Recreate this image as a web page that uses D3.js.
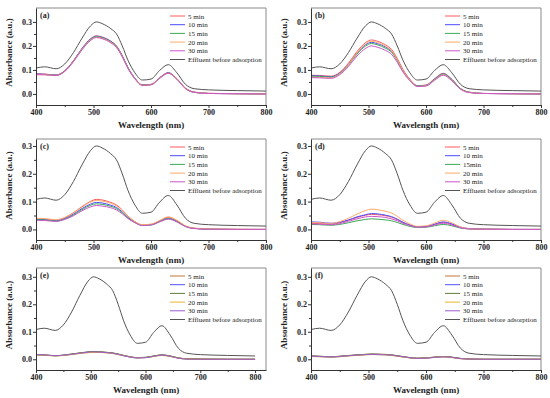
<!DOCTYPE html>
<html>
<head>
<meta charset="utf-8">
<script src="https://cdn.jsdelivr.net/npm/d3@7"></script>
<style>
  body { margin: 0; background: #fff; }
  svg { display: block; }
</style>
</head>
<body>
<div class="chart"></div>
<script>
// UV-vis spectra, six panels

var wavelength = [400, 415, 435, 450, 465, 480, 495, 505, 515, 530, 540, 550, 560, 572, 585, 600, 615, 630, 645, 660, 675, 700, 750, 800]

var effluent = [0.108, 0.113, 0.105, 0.125, 0.172, 0.232, 0.284, 0.300, 0.293, 0.272, 0.250, 0.200, 0.140, 0.088, 0.058, 0.062, 0.098, 0.122, 0.088, 0.040, 0.022, 0.017, 0.014, 0.012]

var a5  = [0.084, 0.083, 0.079, 0.097, 0.138, 0.190, 0.230, 0.242, 0.237, 0.220, 0.200, 0.160, 0.110, 0.066, 0.038, 0.040, 0.068, 0.089, 0.064, 0.024, 0.008, 0.003, 0.001, 0.000]
var a10 = [0.083, 0.082, 0.078, 0.096, 0.137, 0.189, 0.229, 0.241, 0.236, 0.219, 0.199, 0.159, 0.109, 0.065, 0.037, 0.039, 0.067, 0.088, 0.063, 0.023, 0.007, 0.002, 0.001, 0.000]
var a15 = [0.082, 0.081, 0.078, 0.095, 0.136, 0.187, 0.227, 0.239, 0.234, 0.217, 0.197, 0.157, 0.108, 0.064, 0.037, 0.039, 0.066, 0.087, 0.062, 0.023, 0.007, 0.002, 0.001, 0.000]
var a20 = [0.081, 0.080, 0.077, 0.094, 0.135, 0.186, 0.225, 0.237, 0.232, 0.215, 0.195, 0.156, 0.107, 0.064, 0.036, 0.038, 0.066, 0.086, 0.062, 0.022, 0.007, 0.002, 0.001, 0.000]
var a30 = [0.080, 0.080, 0.077, 0.094, 0.134, 0.184, 0.223, 0.235, 0.230, 0.213, 0.193, 0.155, 0.106, 0.063, 0.036, 0.038, 0.065, 0.086, 0.061, 0.022, 0.007, 0.002, 0.001, 0.000]

var b5  = [0.078, 0.077, 0.074, 0.090, 0.128, 0.177, 0.214, 0.225, 0.220, 0.204, 0.186, 0.148, 0.102, 0.061, 0.035, 0.037, 0.064, 0.086, 0.061, 0.023, 0.007, 0.002, 0.001, 0.000]
var b10 = [0.076, 0.075, 0.072, 0.087, 0.123, 0.170, 0.205, 0.215, 0.210, 0.195, 0.178, 0.142, 0.098, 0.059, 0.034, 0.036, 0.062, 0.084, 0.060, 0.022, 0.007, 0.002, 0.001, 0.000]
var b15 = [0.074, 0.073, 0.070, 0.085, 0.120, 0.166, 0.200, 0.210, 0.205, 0.190, 0.174, 0.139, 0.096, 0.058, 0.033, 0.035, 0.061, 0.083, 0.059, 0.022, 0.007, 0.002, 0.001, 0.000]
var b20 = [0.070, 0.069, 0.067, 0.084, 0.122, 0.171, 0.208, 0.220, 0.214, 0.198, 0.180, 0.143, 0.098, 0.058, 0.032, 0.034, 0.059, 0.080, 0.056, 0.020, 0.006, 0.002, 0.001, 0.000]
var b30 = [0.068, 0.067, 0.065, 0.080, 0.114, 0.158, 0.190, 0.200, 0.195, 0.181, 0.165, 0.132, 0.091, 0.055, 0.031, 0.033, 0.057, 0.078, 0.055, 0.020, 0.006, 0.002, 0.001, 0.000]

var c5  = [0.038, 0.037, 0.033, 0.042, 0.060, 0.082, 0.101, 0.108, 0.106, 0.097, 0.088, 0.070, 0.048, 0.028, 0.016, 0.018, 0.031, 0.044, 0.032, 0.012, 0.004, 0.001, 0.000, 0.000]
var c10 = [0.036, 0.035, 0.031, 0.039, 0.055, 0.075, 0.091, 0.097, 0.095, 0.087, 0.079, 0.063, 0.043, 0.026, 0.015, 0.017, 0.029, 0.040, 0.029, 0.011, 0.004, 0.001, 0.000, 0.000]
var c15 = [0.035, 0.034, 0.030, 0.037, 0.052, 0.071, 0.087, 0.092, 0.090, 0.083, 0.075, 0.060, 0.041, 0.025, 0.015, 0.016, 0.028, 0.039, 0.028, 0.011, 0.004, 0.001, 0.000, 0.000]
var c20 = [0.040, 0.039, 0.035, 0.043, 0.059, 0.080, 0.098, 0.104, 0.102, 0.094, 0.085, 0.068, 0.047, 0.028, 0.017, 0.019, 0.032, 0.045, 0.033, 0.013, 0.005, 0.002, 0.001, 0.000]
var c30 = [0.033, 0.032, 0.029, 0.036, 0.049, 0.067, 0.081, 0.086, 0.084, 0.078, 0.070, 0.056, 0.039, 0.024, 0.014, 0.016, 0.027, 0.037, 0.027, 0.010, 0.003, 0.001, 0.000, 0.000]

var d5  = [0.022, 0.021, 0.019, 0.024, 0.033, 0.043, 0.051, 0.054, 0.053, 0.049, 0.044, 0.035, 0.025, 0.015, 0.009, 0.010, 0.018, 0.025, 0.018, 0.007, 0.002, 0.001, 0.000, 0.000]
var d10 = [0.027, 0.026, 0.022, 0.026, 0.034, 0.045, 0.053, 0.057, 0.056, 0.051, 0.046, 0.037, 0.026, 0.016, 0.010, 0.011, 0.019, 0.027, 0.020, 0.008, 0.003, 0.001, 0.000, 0.000]
var d15 = [0.018, 0.017, 0.015, 0.018, 0.024, 0.031, 0.036, 0.038, 0.037, 0.034, 0.031, 0.025, 0.018, 0.011, 0.007, 0.008, 0.013, 0.018, 0.013, 0.005, 0.002, 0.001, 0.000, 0.000]
var d20 = [0.025, 0.024, 0.022, 0.028, 0.040, 0.055, 0.068, 0.073, 0.071, 0.065, 0.059, 0.047, 0.033, 0.020, 0.011, 0.013, 0.023, 0.033, 0.024, 0.009, 0.003, 0.001, 0.000, 0.000]
var d30 = [0.020, 0.019, 0.017, 0.021, 0.029, 0.038, 0.045, 0.047, 0.046, 0.043, 0.038, 0.031, 0.022, 0.014, 0.008, 0.009, 0.016, 0.022, 0.016, 0.006, 0.002, 0.001, 0.000, 0.000]

var e5  = [0.017, 0.016, 0.013, 0.015, 0.019, 0.023, 0.026, 0.027, 0.027, 0.025, 0.023, 0.019, 0.014, 0.009, 0.006, 0.007, 0.012, 0.016, 0.012, 0.005, 0.002, 0.001, 0.000, 0.000]
var e10 = [0.016, 0.015, 0.013, 0.014, 0.018, 0.022, 0.025, 0.026, 0.026, 0.024, 0.022, 0.018, 0.013, 0.008, 0.005, 0.006, 0.011, 0.015, 0.011, 0.004, 0.001, 0.000, 0.000, 0.000]
var e15 = [0.017, 0.016, 0.013, 0.015, 0.019, 0.023, 0.027, 0.028, 0.027, 0.025, 0.023, 0.019, 0.014, 0.009, 0.006, 0.007, 0.012, 0.016, 0.012, 0.005, 0.002, 0.001, 0.000, 0.000]
var e20 = [0.016, 0.015, 0.012, 0.014, 0.017, 0.021, 0.024, 0.025, 0.025, 0.023, 0.021, 0.017, 0.013, 0.008, 0.005, 0.006, 0.010, 0.014, 0.010, 0.004, 0.001, 0.000, 0.000, 0.000]
var e30 = [0.017, 0.016, 0.013, 0.015, 0.018, 0.022, 0.026, 0.027, 0.026, 0.024, 0.022, 0.018, 0.013, 0.008, 0.005, 0.006, 0.011, 0.015, 0.011, 0.004, 0.001, 0.000, 0.000, 0.000]

var f5  = [0.012, 0.011, 0.009, 0.011, 0.014, 0.016, 0.018, 0.019, 0.019, 0.018, 0.016, 0.013, 0.010, 0.006, 0.004, 0.005, 0.008, 0.010, 0.008, 0.003, 0.001, 0.000, 0.000, 0.000]
var f10 = [0.011, 0.010, 0.008, 0.010, 0.013, 0.015, 0.017, 0.018, 0.018, 0.017, 0.015, 0.012, 0.009, 0.005, 0.003, 0.004, 0.007, 0.009, 0.007, 0.003, 0.001, 0.000, 0.000, 0.000]
var f15 = [0.012, 0.011, 0.009, 0.011, 0.013, 0.016, 0.018, 0.019, 0.018, 0.017, 0.016, 0.013, 0.009, 0.006, 0.004, 0.005, 0.008, 0.010, 0.007, 0.003, 0.001, 0.000, 0.000, 0.000]
var f20 = [0.010, 0.009, 0.008, 0.009, 0.012, 0.014, 0.016, 0.017, 0.017, 0.016, 0.014, 0.011, 0.008, 0.005, 0.003, 0.004, 0.007, 0.009, 0.006, 0.002, 0.001, 0.000, 0.000, 0.000]
var f30 = [0.011, 0.010, 0.009, 0.010, 0.013, 0.015, 0.017, 0.018, 0.017, 0.016, 0.015, 0.012, 0.009, 0.006, 0.003, 0.004, 0.007, 0.009, 0.007, 0.002, 0.001, 0.000, 0.000, 0.000]

var xTicks = [400, 500, 600, 700, 800]
var yTicks = [0.0, 0.1, 0.2, 0.3]
var seriesNames = ['5 min', '10 min', '15 min', '20 min', '30 min', 'Effluent before adsorption']
var seriesNamesD = ['5 min', '10 min', '15min', '20 min', '30 min', 'Effluent before adsorption']
var panelLetters = ['(a)', '(b)', '(c)', '(d)', '(e)', '(f)']

var colorsTop = ['#ff5a5a', '#4a4aff', '#3aaa55', '#ffaa6a', '#cc55cc', '#555555']
var colorsBottom = ['#c0783a', '#5050ff', '#5f7f3a', '#e6b42c', '#9a5ccc', '#555555']

var panels = [
    { series: [a5, a10, a15, a20, a30], names: seriesNames, colors: colorsTop, x0: 36, x1: 266, y0: 8, y1: 105, xMax: 800, yDom: [-0.046, 0.358] },
    { series: [b5, b10, b15, b20, b30], names: seriesNames, colors: colorsTop, x0: 311, x1: 541, y0: 8, y1: 105, xMax: 800, yDom: [-0.046, 0.358] },
    { series: [c5, c10, c15, c20, c30], names: seriesNames, colors: colorsTop, x0: 36, x1: 266, y0: 139, y1: 240, xMax: 800, yDom: [-0.038, 0.325] },
    { series: [d5, d10, d15, d20, d30], names: seriesNamesD, colors: colorsTop, x0: 311, x1: 541, y0: 139, y1: 240, xMax: 800, yDom: [-0.038, 0.325] },
    { series: [e5, e10, e15, e20, e30], names: seriesNames, colors: colorsBottom, x0: 36, x1: 266, y0: 268, y1: 370, xMax: 820, yDom: [-0.039, 0.332] },
    { series: [f5, f10, f15, f20, f30], names: seriesNames, colors: colorsBottom, x0: 311, x1: 541, y0: 268, y1: 370, xMax: 800, yDom: [-0.039, 0.332] }
]

var svgWidth = 550
var svgHeight = 398
var font = "'Liberation Serif', 'Times New Roman', serif"

var svg = d3.select('.chart')
    .append('svg')
    .attr('width', svgWidth)
    .attr('height', svgHeight)
    .style('font-family', font)

panels.forEach(function(p, i) {
    var x = d3.scaleLinear().domain([400, p.xMax]).range([p.x0, p.x1])
    var y = d3.scaleLinear().domain(p.yDom).range([p.y1, p.y0])
    var g = svg.append('g')

    // frame (top and right lighter)
    g.append('line').attr('x1', p.x0).attr('x2', p.x1).attr('y1', p.y0).attr('y2', p.y0)
        .attr('stroke', '#8a8a8a').attr('stroke-width', 1)
    g.append('line').attr('x1', p.x1).attr('x2', p.x1).attr('y1', p.y0).attr('y2', p.y1)
        .attr('stroke', '#8a8a8a').attr('stroke-width', 1)

    // lines
    var line = d3.line()
        .x(function(d, k) { return x(wavelength[k]) })
        .y(function(d) { return y(d) })
        .curve(d3.curveMonotoneX)

    var all = p.series.concat([effluent])
    g.selectAll('path.spec')
        .data(all)
        .enter()
        .append('path')
        .attr('class', 'spec')
        .attr('d', line)
        .attr('fill', 'none')
        .attr('stroke', function(d, k) { return p.colors[k] })
        .attr('stroke-width', 1)

    // axes
    g.append('g')
        .attr('transform', `translate(0, ${p.y1})`)
        .call(d3.axisBottom(x).tickValues(xTicks).tickSize(3).tickSizeOuter(0).tickPadding(1).tickFormat(d3.format('d')))
    g.append('g')
        .attr('transform', `translate(0, ${p.y1})`)
        .call(d3.axisBottom(x).tickValues([450, 550, 650, 750]).tickSize(2).tickSizeOuter(0).tickFormat(''))
        .select('.domain').remove()
    g.append('g')
        .attr('transform', `translate(${p.x0}, 0)`)
        .call(d3.axisLeft(y).tickValues(yTicks).tickSize(3).tickSizeOuter(0).tickPadding(1).tickFormat(d3.format('.1f')))
    g.append('g')
        .attr('transform', `translate(${p.x0}, 0)`)
        .call(d3.axisLeft(y).tickValues([0.05, 0.15, 0.25]).tickSize(2).tickSizeOuter(0).tickFormat(''))
        .select('.domain').remove()

    svg.selectAll('.domain').attr('stroke', '#333')
    g.selectAll('.tick line').attr('stroke', '#333')
    g.selectAll('.tick text')
        .attr('font-family', font)
        .attr('font-size', '8px')
        .attr('font-weight', 'bold')
        .attr('fill', '#222')

    // axis titles
    g.append('text')
        .attr('x', (p.x0 + p.x1) / 2 + (p.xMax === 820 ? -5 : 0))
        .attr('y', p.y1 + 23)
        .attr('text-anchor', 'middle')
        .attr('font-size', '9px')
        .attr('font-weight', 'bold')
        .attr('fill', '#222')
        .text('Wavelength (nm)')
    g.append('text')
        .attr('transform', `translate(${p.x0 - 24}, ${(p.y0 + p.y1) / 2 - 4}) rotate(-90)`)
        .attr('text-anchor', 'middle')
        .attr('font-size', '9px')
        .attr('font-weight', 'bold')
        .attr('fill', '#222')
        .text('Absorbance (a.u.)')

    // panel letter
    g.append('text')
        .attr('x', p.x0 + 4)
        .attr('y', p.y0 + 10)
        .attr('font-size', '8px')
        .attr('font-weight', 'bold')
        .attr('fill', '#222')
        .text(panelLetters[i])

    // legend
    var leg = g.append('g').attr('transform', `translate(${p.x0 + 134}, ${p.y0 + 8})`)
    p.names.forEach(function(name, k) {
        leg.append('line')
            .attr('x1', 0).attr('x2', 15)
            .attr('y1', k * 8.7).attr('y2', k * 8.7)
            .attr('stroke', p.colors[k])
            .attr('stroke-width', 1)
        leg.append('text')
            .attr('x', 18)
            .attr('y', k * 8.7 + 2.5)
            .attr('font-size', '7px')
            .attr('fill', '#222')
            .text(name)
    })
})
</script>
</body>
</html>
